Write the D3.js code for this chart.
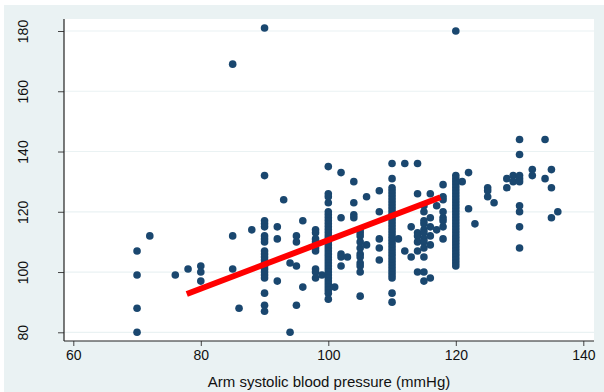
<!DOCTYPE html>
<html>
<head>
<meta charset="utf-8">
<script src="https://cdn.jsdelivr.net/npm/d3@7/dist/d3.min.js"></script>
<style>
body { margin: 0; background: white; }
text { font-family: "Liberation Sans", Arial, sans-serif; }
</style>
</head>
<body>
<svg id="chart"></svg>
<script>
// arm systolic BP (x) and the paired measure (y), grouped by x reading
var sbpGroups = [
  [70, [107, 99, 88, 80]],
  [72, [112]],
  [76, [99]],
  [78, [101]],
  [80, [102, 100, 97]],
  [85, [169, 112, 101]],
  [86, [88]],
  [88, [114]],
  [90, [181, 132, 117, 116, 115, 112, 111, 110, 107, 106, 105, 104, 103, 102, 101, 100, 99, 98, 93, 89, 87]],
  [92, [115, 111, 97]],
  [93, [124]],
  [94, [103, 80]],
  [95, [112, 110, 102, 89]],
  [96, [117, 95]],
  [98, [114, 113, 111, 110, 108, 107, 101, 100, 98]],
  [99, [99]],
  [100, [135, 126, 125, 123, 120, 119, 118, 117, 116, 115, 114, 113, 112, 111, 110, 109, 108, 107, 106, 105, 104, 103, 102, 101, 100, 99, 98, 97, 96, 95, 94, 93, 91]],
  [101, [95]],
  [102, [133, 118, 106, 105, 102]],
  [103, [105]],
  [104, [130, 123, 119, 118]],
  [105, [114, 113, 112, 110, 108, 106, 105, 103, 102, 100, 92]],
  [106, [125, 109]],
  [108, [127, 120, 111, 108, 104]],
  [110, [136, 131, 128, 127, 126, 125, 124, 123, 122, 121, 120, 119, 118, 117, 116, 115, 114, 113, 112, 111, 110, 109, 108, 107, 106, 105, 104, 103, 102, 101, 100, 99, 98, 93, 90]],
  [111, [111]],
  [112, [136, 107]],
  [113, [115, 105]],
  [114, [136, 126, 113, 112, 110, 107, 100]],
  [115, [122, 120, 117, 116, 114, 113, 111, 110, 108, 105, 100, 97]],
  [116, [126, 118, 115, 112, 109, 98]],
  [117, [122, 114]],
  [118, [129, 125, 124, 120, 118, 117, 115, 111]],
  [120, [180, 132, 131, 130, 129, 128, 127, 126, 125, 124, 123, 122, 121, 120, 119, 118, 117, 116, 115, 114, 113, 112, 111, 110, 109, 108, 107, 106, 105, 104, 103, 102]],
  [121, [130]],
  [122, [133, 121]],
  [123, [116]],
  [125, [128, 127, 125]],
  [126, [123]],
  [128, [131, 128]],
  [129, [132, 130]],
  [130, [144, 139, 132, 131, 130, 122, 120, 115, 108]],
  [132, [134, 132]],
  [134, [144, 131]],
  [135, [134, 128, 118]],
  [136, [120]]
];
var fitX = [77.8, 117.6];
var fitY = [92.7, 124.8];
var xTicks = [60, 80, 100, 120, 140];
var yTicks = [80, 100, 120, 140, 160, 180];
var xTitle = "Arm systolic blood pressure (mmHg)";

var points = [];
sbpGroups.forEach(function(g) {
  g[1].forEach(function(v) { points.push([g[0], v]); });
});

var width = 604, height = 392;
var svg = d3.select("#chart").attr("width", width).attr("height", height);

// outer graph region
svg.append("rect").attr("x", 4).attr("y", 5).attr("width", width - 4).attr("height", height - 5)
   .attr("fill", "#eaf2f3");
// plot region
var px0 = 64, px1 = 594, py0 = 19, py1 = 341;
svg.append("rect").attr("x", px0).attr("y", py0).attr("width", px1 - px0).attr("height", py1 - py0)
   .attr("fill", "white");

var x = d3.scaleLinear().domain([60, 140]).range([73.3, 583.3]);
var y = d3.scaleLinear().domain([80, 180]).range([332.3, 31]);

// gridlines
svg.append("g").selectAll("line").data(yTicks).enter().append("line")
   .attr("x1", px0).attr("x2", px1)
   .attr("y1", function(d) { return y(d); }).attr("y2", function(d) { return y(d); })
   .attr("stroke", "#eaf2f3").attr("stroke-width", 1.2);

var xAxis = svg.append("g").attr("transform", "translate(0," + py1 + ")")
   .call(d3.axisBottom(x).tickValues(xTicks).tickSize(5).tickPadding(4).tickFormat(d3.format("d")));
xAxis.select(".domain").remove();
xAxis.selectAll("line").attr("stroke", "#444");
xAxis.selectAll("text").attr("font-size", 14).attr("fill", "#111")
   .style("font-family", "'Liberation Sans', Arial, sans-serif");

var yAxis = svg.append("g").attr("transform", "translate(" + px0 + ",0)")
   .call(d3.axisLeft(y).tickValues(yTicks).tickSize(6).tickFormat(d3.format("d")));
yAxis.select(".domain").remove();
yAxis.selectAll("line").attr("stroke", "#444");
yAxis.selectAll("text").attr("font-size", 14).attr("fill", "#111")
   .attr("text-anchor", "middle").attr("x", 0).attr("dy", 0)
   .attr("transform", "translate(-41,0) rotate(-90)")
   .attr("y", 5)
   .style("font-family", "'Liberation Sans', Arial, sans-serif");

// axis lines
svg.append("line").attr("x1", px0).attr("x2", px0).attr("y1", py0).attr("y2", py1)
   .attr("stroke", "#222").attr("stroke-width", 1.2);
svg.append("line").attr("x1", px0).attr("x2", px1).attr("y1", py1).attr("y2", py1)
   .attr("stroke", "#222").attr("stroke-width", 1.2);

// scatter
svg.append("g").selectAll("circle").data(points).enter().append("circle")
   .attr("cx", function(d) { return x(d[0]); })
   .attr("cy", function(d) { return y(d[1]); })
   .attr("r", 3.8)
   .attr("fill", "#1a476f");

// fitted line
var line = d3.line().x(function(d) { return x(d[0]); }).y(function(d) { return y(d[1]); });
svg.append("path").datum(d3.zip(fitX, fitY))
   .attr("d", line).attr("fill", "none").attr("stroke", "#ff0000").attr("stroke-width", 6);

svg.append("text").attr("x", (px0 + px1) / 2).attr("y", 387)
   .attr("text-anchor", "middle").attr("font-size", 15).attr("fill", "#111")
   .text(xTitle);
</script>
</body>
</html>
